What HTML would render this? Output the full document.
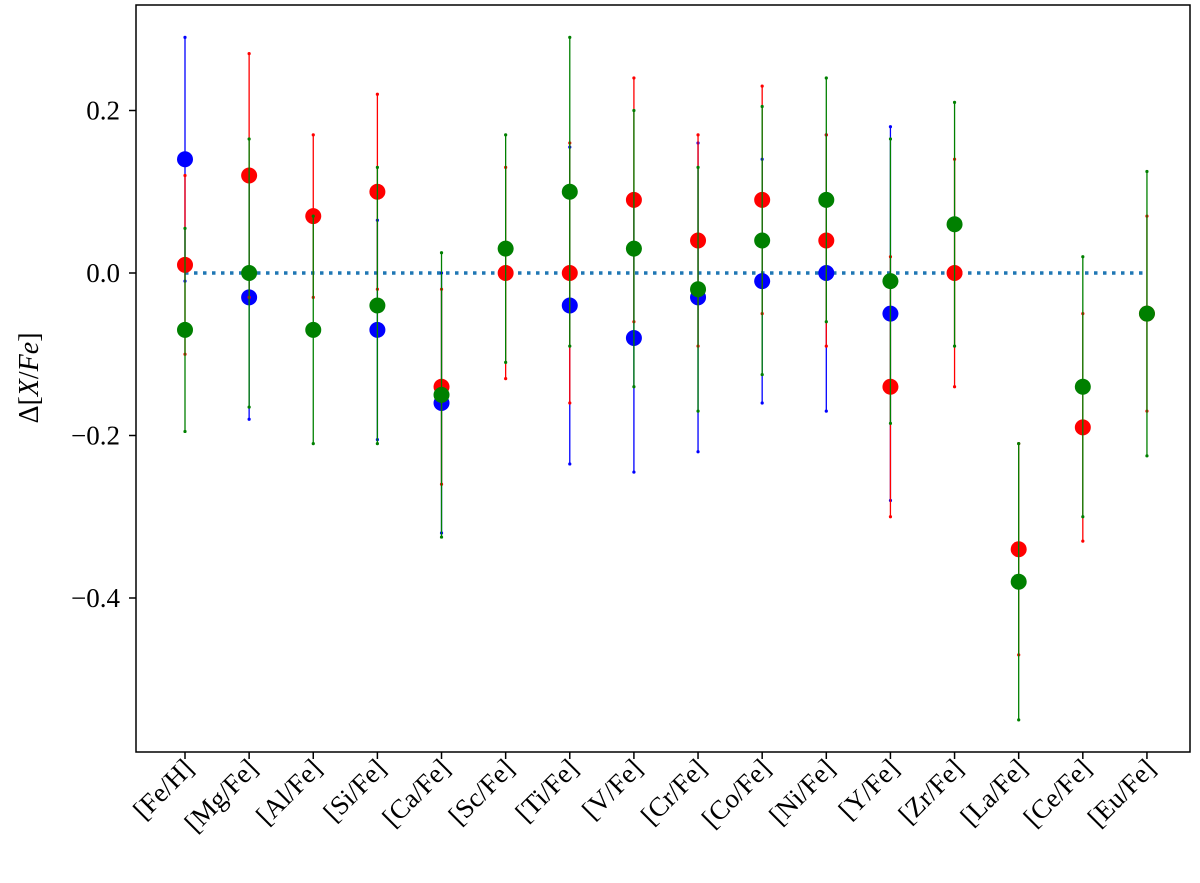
<!DOCTYPE html>
<html><head><meta charset="utf-8"><style>
body{margin:0;background:#fff}
svg text{font-family:"Liberation Serif","DejaVu Serif",serif}
</style></head><body>
<svg id="chart" width="1200" height="878" xmlns="http://www.w3.org/2000/svg">
<rect x="136" y="5" width="1054" height="747" fill="none" stroke="#000" stroke-width="1.5"/>
<g id="g"></g>
</svg>
<script>
const categories=["[Fe/H]","[Mg/Fe]","[Al/Fe]","[Si/Fe]","[Ca/Fe]","[Sc/Fe]","[Ti/Fe]","[V/Fe]","[Cr/Fe]","[Co/Fe]","[Ni/Fe]","[Y/Fe]","[Zr/Fe]","[La/Fe]","[Ce/Fe]","[Eu/Fe]"];
const blueVals=[0.14,-0.03,null,-0.07,-0.16,null,-0.04,-0.08,-0.03,-0.01,0.0,-0.05,null,null,null,null];
const blueErr=[0.15,0.15,null,0.135,0.16,null,0.195,0.165,0.19,0.15,0.17,0.23,null,null,null,null];
const redVals=[0.01,0.12,0.07,0.10,-0.14,0.0,0.0,0.09,0.04,0.09,0.04,-0.14,0.0,-0.34,-0.19,-0.05];
const redErr=[0.11,0.15,0.10,0.12,0.12,0.13,0.16,0.15,0.13,0.14,0.13,0.16,0.14,0.13,0.14,0.12];
const greenVals=[-0.07,0.0,-0.07,-0.04,-0.15,0.03,0.10,0.03,-0.02,0.04,0.09,-0.01,0.06,-0.38,-0.14,-0.05];
const greenErr=[0.125,0.165,0.14,0.17,0.175,0.14,0.19,0.17,0.15,0.165,0.15,0.175,0.15,0.17,0.16,0.175];
const yTicks=[0.2,0.0,-0.2,-0.4];
const NS="http://www.w3.org/2000/svg";
const g=document.getElementById('g');
const xs=i=>185+i*64.13;
const ys=v=>273-v*812.5;
function el(t,a){const e=document.createElementNS(NS,t);for(const k in a)e.setAttribute(k,a[k]);g.appendChild(e);return e;}
yTicks.forEach(v=>{
 const l=el('line',{x1:129,x2:136,y1:ys(v),y2:ys(v),stroke:'#000','stroke-width':1.5});
 
 
 const t=el('text',{x:120,y:ys(v)+9,'text-anchor':'end','font-size':27});
 t.textContent=(v<0?'\u2212':'')+Math.abs(v).toFixed(1);
 
 
});
const yl=el('text',{x:0,y:0,'font-size':28,transform:'translate(38,378) rotate(-90)','text-anchor':'middle'});
yl.innerHTML='Δ[<tspan font-style="italic">X</tspan>/<tspan font-style="italic">Fe</tspan>]';


categories.forEach((c,i)=>{
 const l=el('line',{x1:xs(i),x2:xs(i),y1:752,y2:759,stroke:'#000','stroke-width':1.5});
 
 
 const t=el('text',{x:0,y:0,'font-size':27,'text-anchor':'end',transform:`translate(${xs(i)+10},770) rotate(-45)`});
 t.textContent=c;
 
 
});
const zl=el('line',{x1:xs(0),x2:xs(categories.length-1),y1:ys(0),y2:ys(0),stroke:'#1f77b4','stroke-width':3.5,'stroke-dasharray':'3.5,5.5'});


function series(vals,errs,col,name){
 vals.forEach((v,i)=>{
  if(v===null)return;
  const x=xs(i);
  const b=el('line',{x1:x,x2:x,y1:ys(v+errs[i]),y2:ys(v-errs[i]),stroke:col,'stroke-width':1.3});
  
  
  [v+errs[i],v-errs[i]].forEach(e=>{const d=el('circle',{cx:x,cy:ys(e),r:1.6,fill:col});
   
   });
  const p=el('circle',{cx:x,cy:ys(v),r:8,fill:col});
  
  
 });
}
series(blueVals,blueErr,'#0000ff','blue');
series(redVals,redErr,'#ff0000','red');
series(greenVals,greenErr,'#008000','green');
</script>
</body></html>
